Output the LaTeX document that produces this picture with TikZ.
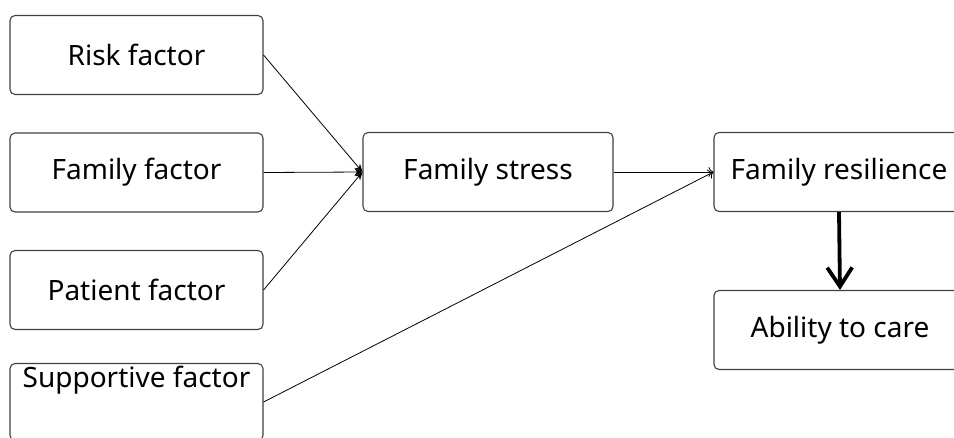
\documentclass[tikz,border=0pt]{standalone}
\usepackage{fontspec}
\setmainfont{Noto Sans}
\usetikzlibrary{arrows.meta}
\begin{document}
\begin{tikzpicture}[x=1pt,y=-1pt,
  box/.style={draw=black!75, line width=1.1pt, rounded corners=5pt, fill=white,
    minimum width=253pt, minimum height=79pt, inner sep=0pt, font=\fontsize{28}{32}\selectfont},
  link/.style={line width=0.8pt, -{Stealth[length=8pt,width=7pt]}},
  openlink/.style={line width=0.8pt, -{To[length=5pt,width=10pt]}},
  bold/.style={line width=3.8pt, -{Straight Barb[length=19pt,width=25pt,line width=3.8pt]}}]
\useasboundingbox (0,0) rectangle (954,437);
\clip (0,0) rectangle (954,437);
% input factors
\node[box] (risk) at (136.5,55) {Risk factor};
\node[box] (fam) at (136.5,172.5) {Family factor};
\node[box] (pat) at (136.5,290) {Patient factor};
\node[box, minimum height=77pt] (sup) at (136.5,402) {};
\node[inner sep=0pt, font=\fontsize{28}{32}\selectfont] (suplabel) at (136.5,380) {Supportive factor};
% middle and outcome boxes
\node[box, minimum width=250pt] (stress) at (488,172) {Family stress};
\node[box, minimum width=250pt] (resil) at (839,172) {Family resilience};
\node[box, minimum width=252pt] (care) at (840,330) {Ability to care};
% connectors
\draw[link] (risk.east) -- (stress.west);
\draw[link] (fam.east) -- (stress.west);
\draw[link] (pat.east) -- (stress.west);
\draw[openlink] (stress.east) -- (resil.west);
\draw[openlink] (sup.east) -- (resil.west);
\draw[bold] (resil.south) -- (care.north);
\end{tikzpicture}
\end{document}
